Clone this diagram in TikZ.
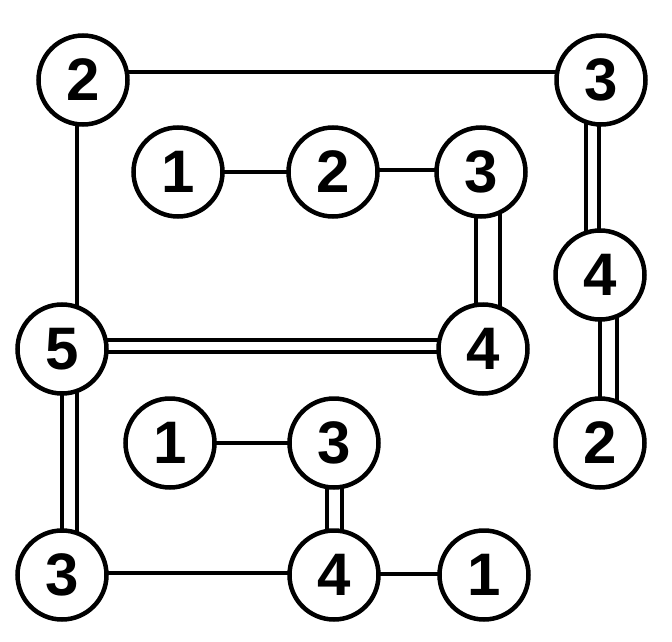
\documentclass[tikz,border=0pt]{standalone}
\usepackage{fontspec}
\setmainfont{Liberation Sans}
\usetikzlibrary{backgrounds}
\tikzset{
  isle/.style={circle, draw=black, line width=4.5pt, fill=white, minimum size=89pt, inner sep=0pt,
    font=\fontsize{60}{60}\bfseries\selectfont},
  bridge/.style={line width=4.5pt, black}
}
\begin{document}
\begin{tikzpicture}[x=1pt,y=-1pt]
\useasboundingbox (0,0) rectangle (672,642);
\node[isle] (A) at (83,80) {2};
\node[isle] (B) at (601,80) {3};
\node[isle] (C) at (178,172) {1};
\node[isle] (D) at (333,172) {2};
\node[isle] (E) at (481,172) {3};
\node[isle] (F) at (600,275) {4};
\node[isle] (G) at (62,349) {5};
\node[isle] (H) at (483,349) {4};
\node[isle] (I) at (600,443) {2};
\node[isle] (J) at (170,443) {1};
\node[isle] (K) at (334,443) {3};
\node[isle] (L) at (62,575) {3};
\node[isle] (M) at (334,575) {4};
\node[isle] (N) at (484,575) {1};
\begin{pgfonlayer}{background}
% single bridges
\draw[bridge] ([yshift=8pt]A.center) -- ([yshift=8pt]B.center);
\draw[bridge] ([xshift=-6pt]A.center) -- ([xshift=15pt]G.center);
\draw[bridge] (C.center) -- (D.center);
\draw[bridge] ([yshift=2pt]D.center) -- ([yshift=2pt]E.center);
\draw[bridge] (J.center) -- (K.center);
\draw[bridge] ([yshift=2pt]L.center) -- ([yshift=2pt]M.center);
\draw[bridge] ([yshift=1pt]M.center) -- ([yshift=1pt]N.center);
% double bridges
\draw[bridge] ([xshift=-15pt]B.center) -- ([xshift=-14pt]F.center);
\draw[bridge] ([xshift=-2pt]B.center) -- ([xshift=-1pt]F.center);
\draw[bridge] (F.center) -- (I.center);
\draw[bridge] ([xshift=17pt]F.center) -- ([xshift=17pt]I.center);
\draw[bridge] ([xshift=-5pt]E.center) -- ([xshift=-7pt]H.center);
\draw[bridge] ([xshift=19pt]E.center) -- ([xshift=17pt]H.center);
\draw[bridge] ([yshift=9pt]G.center) -- ([yshift=9pt]H.center);
\draw[bridge] ([yshift=-3pt]G.center) -- ([yshift=-3pt]H.center);
\draw[bridge] (G.center) -- (L.center);
\draw[bridge] ([xshift=15pt]G.center) -- ([xshift=15pt]L.center);
\draw[bridge] ([xshift=-7pt]K.center) -- ([xshift=-7pt]M.center);
\draw[bridge] ([xshift=8pt]K.center) -- ([xshift=8pt]M.center);
\end{pgfonlayer}
\end{tikzpicture}
\end{document}
